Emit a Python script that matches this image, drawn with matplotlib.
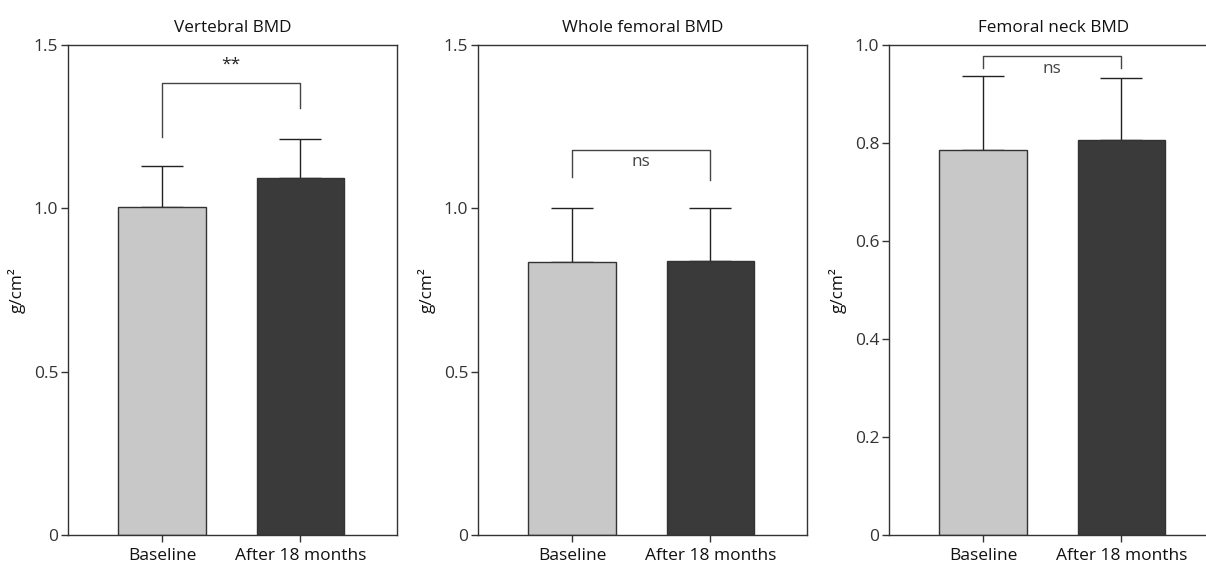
import numpy as np
import matplotlib
matplotlib.use("Agg")
import matplotlib.pyplot as plt

plt.rcParams['font.family'] = ['Open Sans', 'DejaVu Sans']

# data
groups = ['Baseline', 'After 18 months']
titles = ['Vertebral BMD', 'Whole femoral BMD', 'Femoral neck BMD']
means = [[1.005, 1.092], [0.836, 0.840], [0.786, 0.806]]
sd_up = [[0.125, 0.119], [0.164, 0.160], [0.151, 0.126]]
ymax = [1.5, 1.5, 1.0]
yticks = [[0, 0.5, 1.0, 1.5], [0, 0.5, 1.0, 1.5], [0, 0.2, 0.4, 0.6, 0.8, 1.0]]
ytick_labels = [['0', '0.5', '1.0', '1.5'], ['0', '0.5', '1.0', '1.5'],
                ['0', '0.2', '0.4', '0.6', '0.8', '1.0']]
# significance brackets: top, left leg end, right leg end, label
br_top = [1.385, 1.18, 0.977]
br_left = [1.217, 1.095, 0.953]
br_right = [1.306, 1.086, 0.953]
br_text = ['**', 'ns', 'ns']

colors = ['#c8c8c8', '#3a3a3a']
edge = '#333333'

fig = plt.figure(figsize=(12.06, 5.63), dpi=100)
lefts = [68, 478, 889]
x = np.arange(2)

for i in range(3):
    ax = fig.add_axes([lefts[i] / 1206, 28 / 563, 329 / 1206, 490 / 563])
    ax.bar(x, means[i], width=0.63, color=colors, edgecolor=edge, linewidth=1.0, zorder=2)
    ax.errorbar(x, means[i], yerr=[[0, 0], sd_up[i]], fmt='none', ecolor='#222222',
                elinewidth=1.0, capsize=15, capthick=1.0, zorder=1)
    ax.set_xlim(-0.68, 1.70)
    ax.set_ylim(0, ymax[i])
    ax.set_yticks(yticks[i])
    ax.set_yticklabels(ytick_labels[i])
    ax.set_xticks(x)
    ax.set_xticklabels(groups)
    for s in ax.spines.values():
        s.set_color('#333333')
        s.set_linewidth(1.0)
    ax.tick_params(axis='y', direction='out', length=5, width=1, color='#333333',
                   labelsize=12.5, labelcolor='#333333', pad=2)
    ax.tick_params(axis='x', direction='out', length=5, width=1, color='#333333',
                   labelsize=12.5, labelcolor='#111111', pad=4)
    ax.set_title(titles[i], fontsize=12.3, color='#111111', pad=9)
    ax.set_ylabel('g/cm²', fontsize=12.3, color='#111111', labelpad=6)

    # bracket
    ax.plot([0, 0, 1, 1], [br_left[i], br_top[i], br_top[i], br_right[i]],
            color='#444444', linewidth=1.0)
    if br_text[i] == '**':
        ax.text(0.5, br_top[i] + 0.03, br_text[i], ha='center', va='bottom',
                fontsize=12.5, color='#222222')
    else:
        ax.text(0.5, br_top[i] - 0.01 * ymax[i], br_text[i], ha='center', va='top',
                fontsize=12.3, color='#444444')

fig.savefig('out.png', dpi=100)
